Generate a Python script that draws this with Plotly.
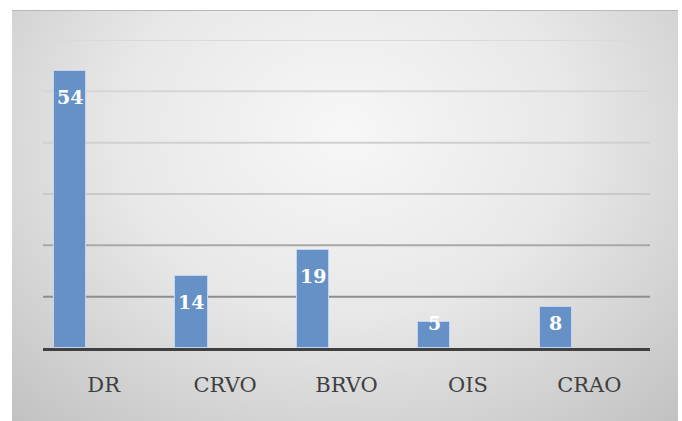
import base64
import plotly.graph_objects as go

# Case counts per retinal vascular diagnosis
categories = ["DR", "CRVO", "BRVO", "OIS", "CRAO"]
counts = [54, 14, 19, 5, 8]
grid_values = [10, 20, 30, 40, 50, 60]
grid_colors = ["#8e8e8e", "#a9a9a9", "#c9c9c9", "#d0d0d0", "#d6d6d6", "#dadada"]

SERIF = "DejaVu Serif"

W, H = 682, 421
L, R, T, B = 43, 32, 40, 73
plot_w, plot_h = W - L - R, H - T - B
y_max = 60
px_per_unit = plot_h / y_max


def px_to_paper_x(px):
    return (px - L) / plot_w


def px_to_paper_y(py):
    return (H - B - py) / plot_h


# Soft radial backdrop for the chart area
svg = (
    '<svg xmlns="http://www.w3.org/2000/svg" width="666" height="411" '
    'preserveAspectRatio="none" viewBox="0 0 666 411">'
    '<defs><radialGradient id="g" cx="0.5" cy="0.3" r="0.75" '
    'gradientTransform="translate(0.5 0.3) scale(1 1.3) translate(-0.5 -0.3)">'
    '<stop offset="0" stop-color="#f7f7f7"/>'
    '<stop offset="0.45" stop-color="#e8e8e8"/>'
    '<stop offset="1" stop-color="#c0c0c0"/>'
    '</radialGradient></defs>'
    '<rect width="666" height="411" fill="url(#g)"/>'
    '</svg>'
)
bg_src = "data:image/svg+xml;base64," + base64.b64encode(svg.encode()).decode()

fig = go.Figure()
fig.add_trace(go.Bar(
    x=categories,
    y=counts,
    offset=-0.41,
    width=0.265,
    marker=dict(color="#6591c7", line=dict(color="#c3d5ee", width=1)),
    hoverinfo="skip",
))

# Value labels sitting inside the top of each bar
annotations = []
for cat, val in zip(categories, counts):
    bar_px = val * px_per_unit
    drop = min(26, bar_px - 25)
    annotations.append(dict(
        x=cat, y=val, xref="x", yref="y",
        text=f"<b>{val}</b>", showarrow=False,
        xshift=(-0.41 + 0.265 / 2) * plot_w / len(categories),
        yshift=-drop,
        font=dict(family=SERIF, size=19, color="white"),
    ))

shapes = []
for gv, gc in zip(grid_values, grid_colors):
    shapes.append(dict(
        type="line", xref="paper", yref="y",
        x0=0, x1=1, y0=gv, y1=gv,
        line=dict(color=gc, width=2), layer="below",
    ))
# Thin frame edge along the top of the chart area
shapes.append(dict(
    type="line", xref="paper", yref="paper",
    x0=px_to_paper_x(12), x1=px_to_paper_x(678),
    y0=px_to_paper_y(10.5), y1=px_to_paper_y(10.5),
    line=dict(color="#b8b8b8", width=1), layer="below",
))

fig.update_layout(
    width=W, height=H,
    margin=dict(l=L, r=R, t=T, b=B),
    paper_bgcolor="white",
    plot_bgcolor="rgba(0,0,0,0)",
    showlegend=False,
    bargap=0,
    images=[dict(
        source=bg_src, xref="paper", yref="paper",
        x=px_to_paper_x(12), y=px_to_paper_y(10),
        sizex=(678 - 12) / plot_w, sizey=(421 - 10) / plot_h,
        xanchor="left", yanchor="top", sizing="stretch", layer="below",
    )],
    shapes=shapes,
    annotations=annotations,
    xaxis=dict(
        type="category", range=[-0.5, 4.5],
        showgrid=False, zeroline=False,
        showline=True, linecolor="#404040", linewidth=3,
        ticks="", ticklabelstandoff=16,
        tickfont=dict(family=SERIF, size=21, color="#404040"),
        fixedrange=True,
    ),
    yaxis=dict(
        range=[0, y_max], showgrid=False, zeroline=False,
        showticklabels=False, showline=False, fixedrange=True,
    ),
)

fig.write_html("out.html")
